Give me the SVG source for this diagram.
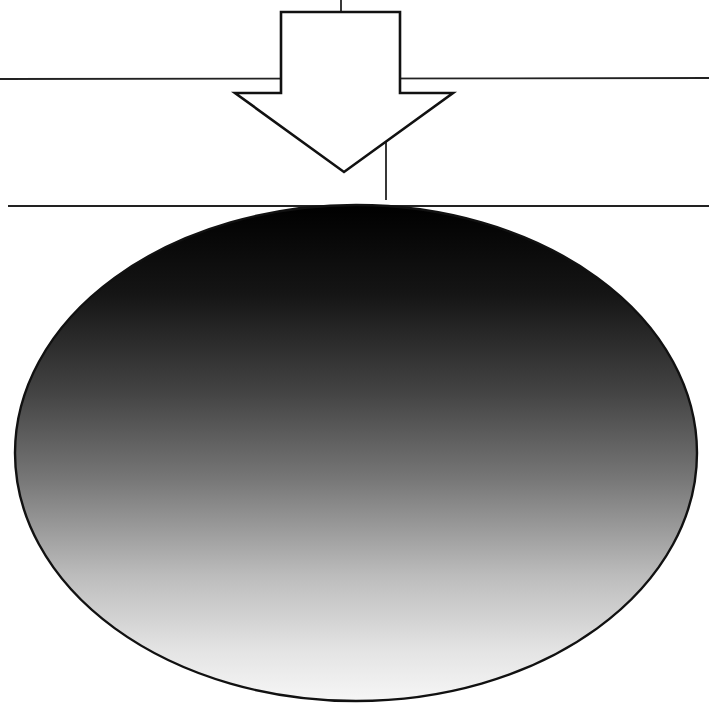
<svg xmlns="http://www.w3.org/2000/svg" width="709" height="716" viewBox="0 0 709 716">
<style>
.ln{stroke:#222;stroke-width:1.8;fill:none}
.arr{fill:#fff;stroke:#111;stroke-width:2.6;stroke-linejoin:miter}
.ell{stroke:#111;stroke-width:2.4}
</style>
<defs>
<linearGradient id="g" x1="0" y1="0" x2="0" y2="1">
<stop offset="0" stop-color="#000"/>
<stop offset="0.18" stop-color="#151515"/>
<stop offset="0.38" stop-color="#444"/>
<stop offset="0.55" stop-color="#767676"/>
<stop offset="0.75" stop-color="#bdbdbd"/>
<stop offset="0.9" stop-color="#e4e4e4"/>
<stop offset="1" stop-color="#f6f6f6"/>
</linearGradient>
</defs>
<rect width="709" height="716" fill="#fff"/>
<g id="connectors">
<line class="ln" x1="0" y1="79" x2="709" y2="78"/>
<line class="ln" x1="8" y1="206" x2="709" y2="206"/>
<line class="ln" x1="341" y1="0" x2="341" y2="12"/>
<line class="ln" x1="386" y1="140" x2="386" y2="200"/>
</g>
<g id="arrow">
<polygon class="arr" points="281,12 400,12 400,93 453,93 344,172 235,93 281,93"/>
</g>
<g id="ellipse">
<ellipse class="ell" cx="356" cy="453" rx="341" ry="248" fill="url(#g)"/>
</g>
</svg>
